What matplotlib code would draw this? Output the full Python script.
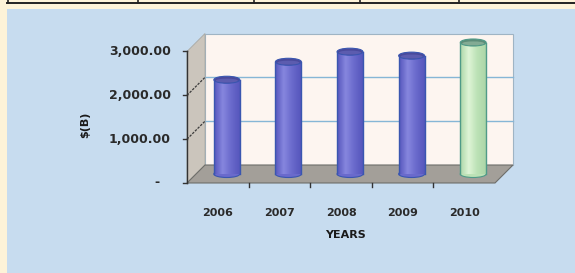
import matplotlib
matplotlib.use("Agg")
import matplotlib.pyplot as plt
import numpy as np
from matplotlib.patches import Rectangle, Polygon, Ellipse
from matplotlib.colors import LinearSegmentedColormap
import matplotlib.transforms as mtransforms

years = ['2006', '2007', '2008', '2009', '2010']
values = [2150, 2560, 2790, 2700, 3000]
y_ticks = [0, 1000, 2000, 3000]
y_tick_labels = ['-', '1,000.00', '2,000.00', '3,000.00']

W, H = 575, 273
fig = plt.figure(figsize=(W / 100, H / 100), dpi=100)
fig.patch.set_facecolor('#fdf3d8')

# light blue panel and the table edge above it
fig.patches.append(Rectangle((7 / W, 0), 1, (H - 9) / H, transform=fig.transFigure,
                             facecolor='#c7dcef', edgecolor='none', zorder=-5))
fig.add_artist(plt.Line2D([7 / W, 1], [1 - 2.5 / H, 1 - 2.5 / H], transform=fig.transFigure,
                          color='#222222', lw=1.4, zorder=-4))
for xp in [7.5, 138, 254, 360, 459]:
    fig.add_artist(plt.Line2D([xp / W, xp / W], [1 - 3 / H, 1], transform=fig.transFigure,
                              color='#222222', lw=1.2, zorder=-4))

# axes = middle depth plane of the 3d box
ax = fig.add_axes([196 / W, 1 - 174 / H, 308 / W, 131.5 / H])
ax.set_zorder(2)
ax.set_xlim(-0.5, 4.5)
ax.set_ylim(0, 3000)
ax.axis('off')

n = len(years)
dx, dy = 0.146, 205   # half depth of the box in data units
x0, x1 = -0.5, n - 0.5
top = y_ticks[-1]

# back wall
ax.add_patch(Rectangle((x0 + dx, dy), x1 - x0, top, facecolor='#fdf5f0',
                       edgecolor='#9fb4c4', lw=0.8, clip_on=False, zorder=1))
for v in y_ticks[1:-1]:
    ax.plot([x0 + dx, x1 + dx], [v + dy, v + dy], color='#86b6d6', lw=1.0,
            clip_on=False, zorder=2)

# left wall
ax.add_patch(Polygon([(x0 - dx, -dy), (x0 + dx, dy), (x0 + dx, top + dy), (x0 - dx, top - dy)],
                     closed=True, facecolor='#cbc5bc', edgecolor='#a9a9a4', lw=0.6,
                     clip_on=False, zorder=2))
for v in y_ticks[1:-1]:
    ax.plot([x0 - dx, x0 + dx], [v - dy, v + dy], color='#3c3c3c', lw=0.9, ls=(0, (2, 1)),
            clip_on=False, zorder=3)

# floor
ax.add_patch(Polygon([(x0 - dx, -dy), (x1 - dx, -dy), (x1 + dx, dy), (x0 + dx, dy)],
                     closed=True, facecolor='#a39f99', edgecolor='#6e6e6a', lw=0.8,
                     clip_on=False, zorder=3))

# cylinders
bw = 0.42
eh = 160
styles = [
    ('#5656bc', '#8686de', '#6a6acc', '#3a56b0', '#4a4a9c'),
] * (n - 1) + [
    ('#acd6a8', '#def4d6', '#bce2b6', '#4f9a88', '#5c8c78'),
]
for i, (v, st) in enumerate(zip(values, styles)):
    c_dark, c_light, c_mid, c_edge, c_top = st
    cmap = LinearSegmentedColormap.from_list('cyl', [c_dark, c_light, c_mid, c_dark])
    grad = np.linspace(0, 1, 64).reshape(1, -1)
    ax.add_patch(Ellipse((i, 0), bw, eh, facecolor=c_mid, edgecolor=c_edge, lw=0.8,
                         clip_on=False, zorder=4))
    ax.imshow(grad, cmap=cmap, aspect='auto', extent=(i - bw / 2, i + bw / 2, 0, v),
              zorder=5, clip_on=False)
    ax.plot([i - bw / 2, i - bw / 2], [0, v], color=c_edge, lw=1.0, zorder=6, clip_on=False)
    ax.plot([i + bw / 2, i + bw / 2], [0, v], color=c_edge, lw=1.0, zorder=6, clip_on=False)
    ax.add_patch(Ellipse((i, v), bw, eh, facecolor=c_top, edgecolor=c_edge, lw=0.8,
                         clip_on=False, zorder=7))
    ax.add_patch(Ellipse((i, v - eh * 0.12), bw * 0.85, eh * 0.55, facecolor=c_light,
                         edgecolor='none', alpha=0.3, clip_on=False, zorder=7))

ax.set_xlim(-0.5, 4.5)
ax.set_ylim(0, 3000)

# front value axis
ax.plot([x0 - dx, x0 - dx], [-dy, top - dy], color='#333333', lw=1.0, clip_on=False, zorder=8)
for v, lab in zip(y_ticks, y_tick_labels):
    ax.plot([x0 - dx - 0.07, x0 - dx], [v - dy, v - dy], color='#333333', lw=1.0,
            clip_on=False, zorder=8)
    shift = -12 if lab == '-' else 0
    tr = mtransforms.offset_copy(ax.transData, fig=fig, x=-16 + shift, y=0, units='dots')
    ax.text(x0 - dx, v - dy, lab, transform=tr, ha='right', va='center',
            fontsize=9, fontweight='bold', color='#2a2a2a')

# category ticks and labels at the front edge of the floor
for b in np.arange(0.5, n - 1, 1.0):
    ax.plot([b - dx, b - dx], [-dy, -dy - 90], color='#333333', lw=1.0, clip_on=False, zorder=8)
for i, lab in enumerate(years):
    ax.text(i - dx, -dy - 680, lab, ha='center', va='center', fontsize=8,
            fontweight='bold', color='#2a2a2a')

fig.text(345 / W, 1 - 235 / H, 'YEARS', ha='center', va='center', fontsize=8,
         fontweight='bold', color='#1a1a1a')
fig.text(85 / W, 1 - 125 / H, '$(B)', ha='center', va='center', rotation=90,
         fontsize=8, fontweight='bold', color='#1a1a1a')

fig.savefig('out.png', dpi=100, facecolor=fig.get_facecolor())
